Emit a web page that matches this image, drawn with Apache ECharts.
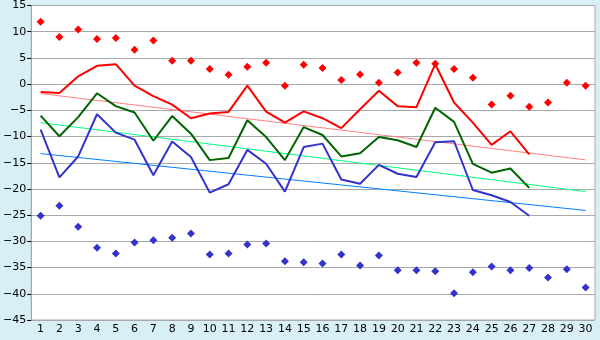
<!DOCTYPE html>
<html><head><meta charset="utf-8">
<script src="https://cdn.jsdelivr.net/npm/echarts@6/dist/echarts.min.js"></script>
<style>html,body{margin:0;padding:0;background:#d9eff6;}#c{width:600px;height:340px;}</style>
</head><body><div id="c"></div>
<script>
var categories = ['1','2','3','4','5','6','7','8','9','10','11','12','13','14','15','16','17','18','19','20','21','22','23','24','25','26','27','28','29','30'];
var redLine = [-1.5,-1.7,1.5,3.5,3.8,-0.3,-2.3,-3.9,-6.5,-5.6,-5.3,-0.3,-5.25,-7.35,-5.2,-6.5,-8.4,-4.8,-1.25,-4.2,-4.4,3.8,-3.5,-7.35,-11.6,-9.0,-13.4];
var greenLine = [-6.0,-9.95,-6.3,-1.75,-4.2,-5.4,-10.8,-6.1,-9.45,-14.5,-14.1,-6.9,-10.1,-14.5,-8.2,-9.7,-13.8,-13.2,-10.1,-10.7,-12.0,-4.5,-7.2,-15.2,-16.9,-16.1,-19.8];
var blueLine = [-8.7,-17.8,-13.8,-5.75,-9.25,-10.6,-17.4,-10.95,-13.9,-20.7,-19.1,-12.55,-15.2,-20.5,-12.0,-11.35,-18.2,-19.0,-15.4,-17.1,-17.7,-11.1,-10.9,-20.2,-21.2,-22.5,-25.1];
var redPoints = [11.9,9.0,10.4,8.6,8.8,6.55,8.3,4.45,4.45,2.9,1.8,3.3,4.1,-0.3,3.7,3.1,0.8,1.85,0.27,2.2,4.1,3.9,2.9,1.2,-3.9,-2.2,-4.3,-3.5,0.27,-0.3];
var bluePoints = [-25.1,-23.2,-27.2,-31.2,-32.3,-30.2,-29.8,-29.3,-28.5,-32.5,-32.3,-30.6,-30.4,-33.8,-34.0,-34.2,-32.5,-34.6,-32.7,-35.5,-35.5,-35.7,-39.9,-35.9,-34.8,-35.5,-35.1,-36.9,-35.3,-38.8];
var redTrend = [['1',-1.8],['30',-14.45]];
var greenTrend = [['1',-7.35],['30',-20.5]];
var blueTrend = [['1',-13.25],['30',-24.1]];
var yTicks = {min:-45, max:15, interval:5};

var chart = echarts.init(document.getElementById('c'), null, {renderer:'canvas'});
function line(data, color, width, z){
  return {type:'line', data:data, symbol:'none', lineStyle:{color:color, width:width}, z:z, animation:false, silent:true};
}
function pts(data, color){
  return {type:'scatter', data:data, symbol:'diamond', symbolSize:8, itemStyle:{color:color, opacity:1}, z:10, animation:false};
}
chart.setOption({
  backgroundColor:'#d9eff6',
  animation:false,
  grid:{left:26, right:5, top:5, bottom:20, show:true, backgroundColor:'#ffffff', borderColor:'#a8a8a8', borderWidth:1},
  xAxis:{type:'category', data:categories, boundaryGap:true,
    axisLine:{lineStyle:{color:'#a8a8a8'}},
    axisTick:{alignWithLabel:true, length:5, lineStyle:{color:'#000'}},
    axisLabel:{color:'#000', fontFamily:'DejaVu Sans', fontSize:11, margin:4, interval:0}},
  yAxis:{type:'value', min:yTicks.min, max:yTicks.max, interval:yTicks.interval,
    axisLine:{show:true, lineStyle:{color:'#a8a8a8'}},
    axisTick:{show:true, length:4, lineStyle:{color:'#000'}},
    splitLine:{lineStyle:{color:'#a8a8a8'}},
    axisLabel:{color:'#000', fontFamily:'DejaVu Sans', fontSize:11, margin:5,
      formatter:function(v){return v<0?'\u2212'+(-v):String(v);}}},
  series:[
    line(redTrend,'#ff8080',1,2),
    line(greenTrend,'#00ff80',1,2),
    line(blueTrend,'#0080ff',1,2),
    line(redLine,'#ff0000',2,5),
    line(greenLine,'#006400',2,5),
    line(blueLine,'#3333cc',2,5),
    pts(redPoints,'#ff0000'),
    pts(bluePoints,'#3333cc')
  ]
});
</script></body></html>
